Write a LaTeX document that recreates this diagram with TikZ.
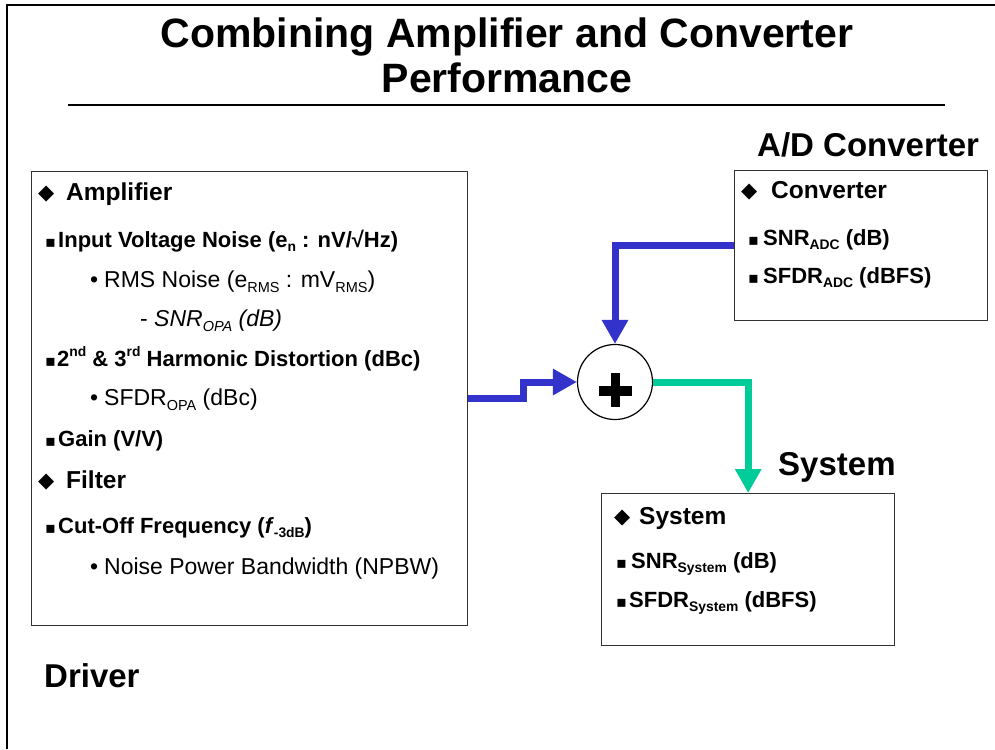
\documentclass[tikz,border=0pt]{standalone}
\usepackage{fontspec}
\setmainfont{Liberation Sans}
\newfontfamily\symfont{DejaVu Sans}
\usetikzlibrary{arrows.meta}
\definecolor{arrblue}{HTML}{3333CC}
\definecolor{arrgreen}{HTML}{00CC99}
\definecolor{boxline}{HTML}{333333}
\makeatletter
\newcommand\lo[1]{\raisebox{-0.22em}{\fontsize{\fpeval{0.63*\f@size}}{0}\selectfont #1}}
\newcommand\hi[1]{\raisebox{0.42em}{\fontsize{\fpeval{0.63*\f@size}}{0}\selectfont #1}}
\makeatother
\newcommand\diab[1]{\makebox[#1][l]{\raisebox{0.02em}{\symfont\fontsize{21}{21}\selectfont ◆}}}
\newcommand\sqb[1]{\makebox[#1][l]{\symfont\fontsize{16}{16}\selectfont ▪}}
\newcommand\rb[1]{\makebox[#1][l]{•}}
\begin{document}
\begin{tikzpicture}[x=1pt,y=-1pt,
  txt/.style={anchor=base west,inner sep=0pt},
  sect/.style={txt,font=\bfseries\fontsize{24.5}{28}\selectfont},
  itm/.style={txt,font=\bfseries\fontsize{22}{25}\selectfont},
  reg/.style={txt,font=\fontsize{23}{26}\selectfont},
  head/.style={txt,font=\bfseries\fontsize{33}{38}\selectfont},
  ttl/.style={anchor=base,inner sep=0pt,font=\bfseries\fontsize{41}{46}\selectfont},
  box/.style={draw=boxline,line width=1.4pt,inner sep=0pt,anchor=north west},
  flow/.style={line width=7pt,-{Triangle[length=24pt,width=25pt]}}]
\useasboundingbox (0,0) rectangle (995,749);
% frame
\draw[line width=1.6pt] (7,749) -- (7,5) -- (995,5);
% title
\node[ttl] (t1) at (507,48) {Combining Amplifier and Converter};
\node[ttl] (t2) at (507,93) {Performance};
\draw[line width=1.8pt] (68,105) -- (945,105);
% boxes
\node[box,minimum width=436pt,minimum height=454pt] (amp) at (31,171) {};
\node[box,minimum width=253pt,minimum height=150pt] (conv) at (734,170) {};
\node[box,minimum width=293pt,minimum height=152pt] (sys) at (601,493) {};
% summing junction
\node[circle,draw,line width=1.2pt,minimum size=75pt,inner sep=0pt] (sum) at (615,382) {};
\fill ([shift={(-16.5,4)}]sum.center) rectangle ++(33,9.5);
\fill ([shift={(-4.5,-9)}]sum.center) rectangle ++(9,34);
% connectors
\draw[flow,arrblue] (amp.east) -- ++(55,0) |- (sum.west);
\draw[flow,arrblue] (conv.west) -| (sum.north);
\draw[flow,arrgreen] (sum.east) -| (sys.north);
% amplifier text
\node[sect] (a1) at (38,200) {\diab{28pt}Amplifier};
\node[itm] (a2) at (45,247) {\sqb{13pt}Input Voltage Noise (e\lo{n} : nV/√Hz)};
\node[reg] (a3) at (90,287) {\rb{14pt}RMS Noise (e\lo{RMS} : mV\lo{RMS})};
\node[reg] (a4) at (140,326) {\makebox[14pt][l]{-}\textit{SNR\lo{OPA} (dB)}};
\node[itm] (a5) at (45,366) {\sqb{12pt}2\hi{nd} \& 3\hi{rd} Harmonic Distortion (dBc)};
\node[reg] (a6) at (90,405) {\rb{14pt}SFDR\lo{OPA} (dBc)};
\node[itm] (a7) at (45,446) {\sqb{13pt}Gain (V/V)};
\node[sect] (a8) at (38,488) {\diab{28pt}Filter};
\node[itm] (a9) at (45,533) {\sqb{13pt}Cut-Off Frequency (\textit{f}\lo{-3dB})};
\node[reg] (a10) at (90,574) {\rb{14pt}Noise Power Bandwidth (NPBW)};
% converter text
\node[head] (convh) at (757,157) {A/D Converter};
\node[sect] (c1) at (741,198) {\diab{30pt}Converter};
\node[itm] (c2) at (748,245) {\sqb{15pt}SNR\lo{ADC} (dB)};
\node[itm] (c3) at (748,283) {\sqb{15pt}SFDR\lo{ADC} (dBFS)};
% system text
\node[head] (sysh) at (778,475) {System};
\node[sect] (s1) at (614,524) {\diab{25pt}System};
\node[itm] (s2) at (616,568) {\sqb{15pt}SNR\lo{System} (dB)};
\node[itm] (s3) at (616,607) {\sqb{13pt}SFDR\lo{System} (dBFS)};
% driver label
\node[head] (drv) at (44,687) {Driver};
\end{tikzpicture}
\end{document}
